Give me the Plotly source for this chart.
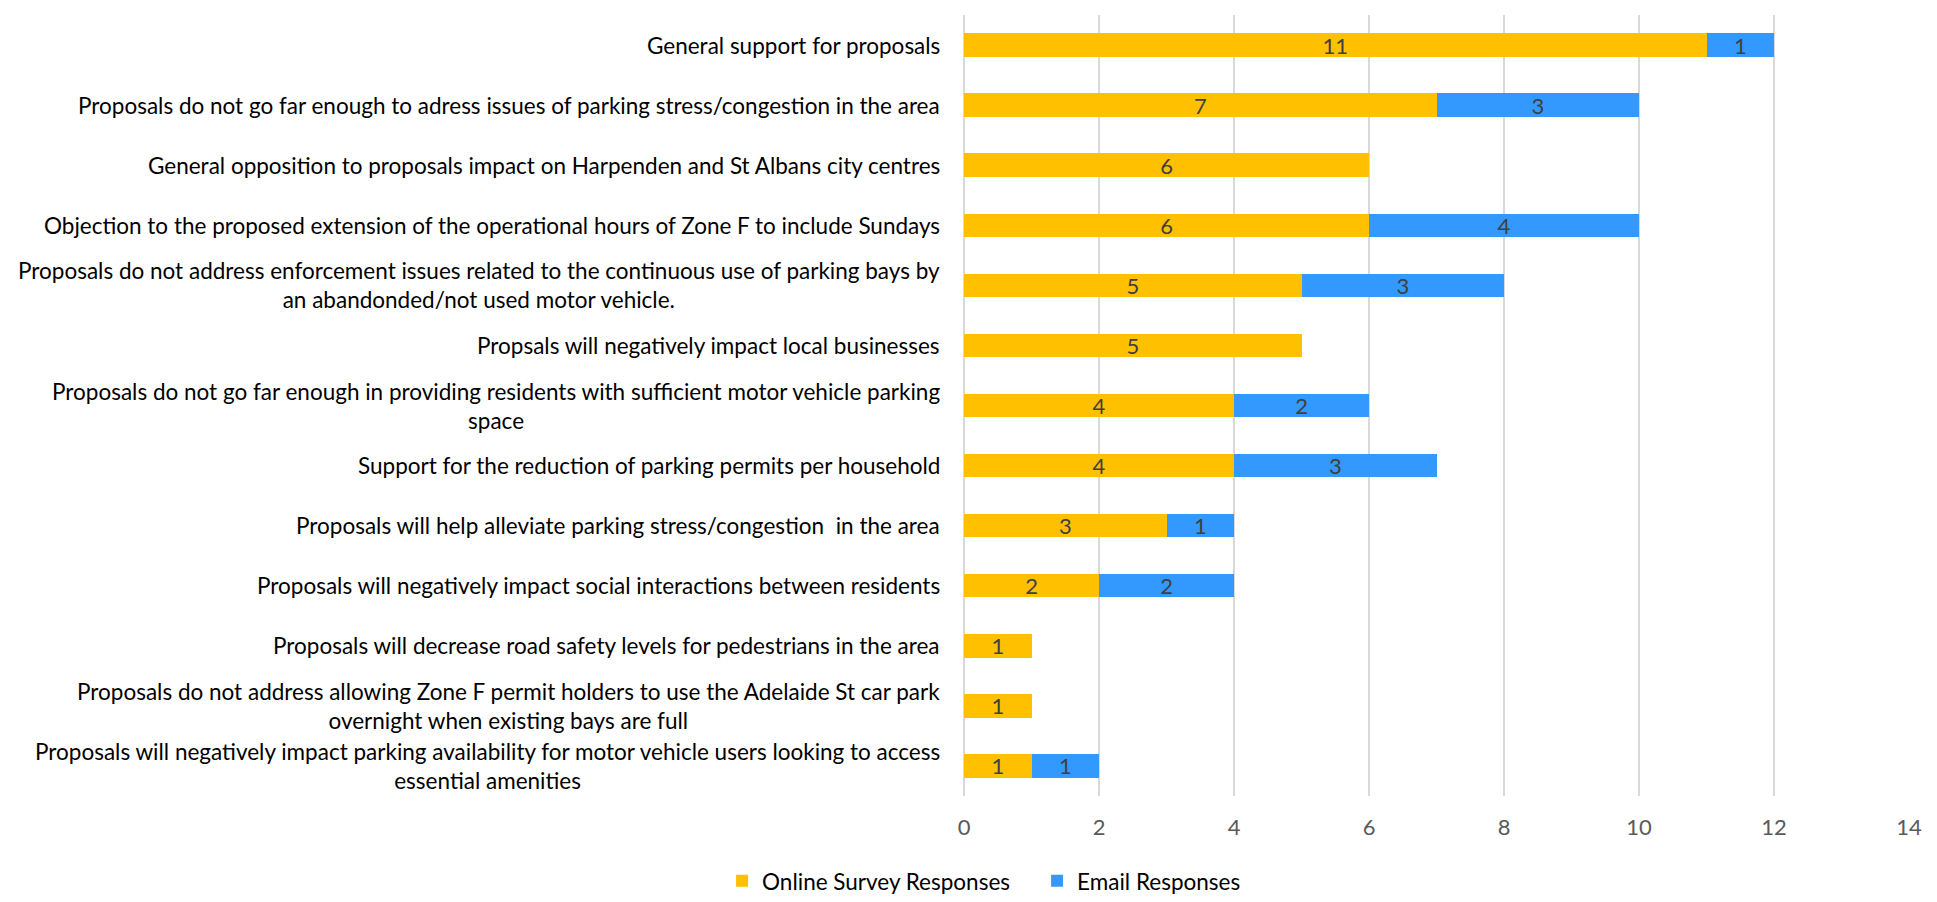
import plotly.graph_objects as go

categories = [
    "General support for proposals",
    "Proposals do not go far enough to adress issues of parking stress/congestion in the area",
    "General opposition to proposals impact on Harpenden and St Albans city centres",
    "Objection to the proposed extension of the operational hours of Zone F to include Sundays",
    "Proposals do not address enforcement issues related to the continuous use of parking bays by<br>an abandonded/not used motor vehicle.",
    "Propsals will negatively impact local businesses",
    "Proposals do not go far enough in providing residents with sufficient motor vehicle parking<br>space",
    "Support for the reduction of parking permits per household",
    "Proposals will help alleviate parking stress/congestion  in the area",
    "Proposals will negatively impact social interactions between residents",
    "Proposals will decrease road safety levels for pedestrians in the area",
    "Proposals do not address allowing Zone F permit holders to use the Adelaide St car park<br>overnight when existing bays are full",
    "Proposals will negatively impact parking availability for motor vehicle users looking to access<br>essential amenities",
]
online = [11, 7, 6, 6, 5, 5, 4, 4, 3, 2, 1, 1, 1]
email = [1, 3, 0, 4, 3, 0, 2, 3, 1, 2, 0, 0, 1]
series_names = ["Online Survey Responses", "Email Responses"]
x_ticks = [0, 2, 4, 6, 8, 10, 12, 14]

ids = list(range(len(categories)))
FONT = "Lato"
LBL = 22

fig = go.Figure()
for vals, name, color in [(online, series_names[0], "#FFC000"), (email, series_names[1], "#3399FF")]:
    fig.add_trace(go.Bar(
        y=ids, x=vals, orientation="h", name=name,
        marker=dict(color=color, line=dict(width=0)),
        text=[str(v) if v else "" for v in vals], textposition="inside",
        insidetextanchor="middle", textangle=0, constraintext="none",
        textfont=dict(family=FONT, size=LBL, color="#404040"),
    ))

for i, c in zip(ids, categories):
    fig.add_annotation(
        x=0, xref="paper", y=i, yref="y", text=c, showarrow=False,
        xanchor="right", yanchor="middle", align="center", xshift=-22,
        font=dict(family=FONT, size=22.5, color="#000000"),
    )

fig.update_layout(
    barmode="stack",
    bargap=0.61,
    width=1937, height=902,
    margin=dict(l=956, r=36, t=7, b=97),
    plot_bgcolor="white", paper_bgcolor="white",
    font=dict(family=FONT),
    uniformtext=dict(mode="show", minsize=LBL),
    legend=dict(
        orientation="h", x=-0.256, xanchor="left", y=-0.109, yanchor="middle",
        font=dict(family=FONT, size=22.5, color="#000000"),
        traceorder="normal", itemwidth=30, entrywidth=270, entrywidthmode="pixels",
    ),
    xaxis=dict(
        range=[0, 14], tickvals=x_ticks, showgrid=True, gridcolor="#D9D9D9",
        gridwidth=1.5, zeroline=True, zerolinecolor="#D9D9D9", zerolinewidth=1.5,
        tickfont=dict(family=FONT, size=22, color="#595959"), ticks="", showline=False,
        ticklabelstandoff=16,
    ),
    yaxis=dict(
        tickvals=ids, showticklabels=False,
        showgrid=False, zeroline=False, showline=False, ticks="",
        range=[len(categories) - 0.5, -0.5],
    ),
    showlegend=True,
)

fig.write_html("out.html")
